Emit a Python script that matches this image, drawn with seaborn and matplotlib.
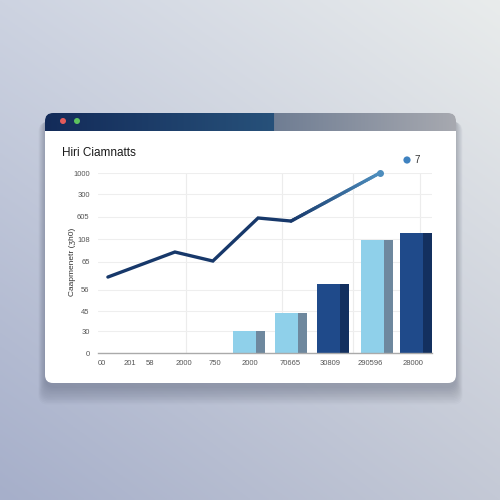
import numpy as np
import pandas as pd
import matplotlib
matplotlib.use("Agg")
import matplotlib.pyplot as plt
import seaborn as sns
from matplotlib.patches import FancyBboxPatch, Circle
from matplotlib.collections import LineCollection
from matplotlib.colors import to_rgb

# ---------------- data ----------------
title = "Hiri Ciamnatts"
y_label = "Caapmenetr (ʒh0)"
legend_label = "7"

x_tick_pos = [0, 8.5, 14.5, 24.8, 34.2, 44.8, 57.0, 69.0, 81.2, 94.2]
x_tick_labels = ["00", "201", "58", "2000", "750", "2000", "70665", "30809", "290596", "28000"]
y_tick_pos = [0, 122, 233, 350, 506, 633, 756, 883, 1000]
y_tick_labels = ["0", "30", "45", "56", "65", "108", "605", "300", "1000"]

line_x = [1.8, 22.1, 33.6, 47.3, 57.3, 84.2]
line_y = [422, 561, 511, 750, 733, 1000]

bar_x = [44.5, 57.2, 70.0, 83.2, 95.1]
bar_h = [122, 222, 383, 628, 667]
bar_kind = ["light", "light", "dark", "light", "dark"]

# ---------------- style ----------------
sns.set_theme(style="white")
plt.rcParams["font.family"] = ["Liberation Sans", "DejaVu Sans"]

fig = plt.figure(figsize=(5, 5), dpi=100)

# background axes in pixel coordinates
bg = fig.add_axes([0, 0, 1, 1])
bg.set_xlim(0, 500)
bg.set_ylim(500, 0)
bg.axis("off")

tl, tr = np.array(to_rgb("#cdd3e1")), np.array(to_rgb("#e9ecec"))
bl, br = np.array(to_rgb("#a6afca")), np.array(to_rgb("#c4c9d6"))
u = np.linspace(0, 1, 200)[None, :, None]
v = np.linspace(0, 1, 200)[:, None, None]
grad = (1 - v) * ((1 - u) * tl + u * tr) + v * ((1 - u) * bl + u * br)
bg.imshow(grad, extent=(0, 500, 500, 0), aspect="auto", zorder=0)

# card shadow
for i in range(12):
    s = FancyBboxPatch((45 - i * 0.6, 118 + i * 0.4), 411 + i * 1.2, 270 + i * 1.1,
                       boxstyle="round,pad=0,rounding_size=9",
                       fc="#20283e", ec="none", alpha=0.022, zorder=1)
    bg.add_patch(s)

card = FancyBboxPatch((45, 113), 411, 270, boxstyle="round,pad=0,rounding_size=8",
                      fc="white", ec="none", zorder=2)
bg.add_patch(card)

# header gradient
hx = np.linspace(0, 1, 400)
hcols = []
c1, c2 = np.array(to_rgb("#132b59")), np.array(to_rgb("#27517a"))
c3, c4 = np.array(to_rgb("#6f7d93")), np.array(to_rgb("#a7a9b0"))
for t in hx:
    px = 45 + t * 411
    if px < 274:
        f = (px - 45) / (274 - 45)
        hcols.append(c1 * (1 - f) + c2 * f)
    else:
        f = (px - 274) / (456 - 274)
        hcols.append(c3 * (1 - f) + c4 * f)
hdr = np.array(hcols)[None, :, :]
im = bg.imshow(hdr, extent=(45, 456, 131, 113), aspect="auto", zorder=3)
im.set_clip_path(card)

bg.add_patch(Circle((63, 121), 3, fc="#e25b5b", ec="none", zorder=4))
bg.add_patch(Circle((77, 121), 3, fc="#5cc25e", ec="none", zorder=4))

# ---------------- chart ----------------
ax = fig.add_axes([98 / 500, 1 - 353 / 500, 334 / 500, 180 / 500])
ax.set_facecolor("none")
ax.set_xlim(-1.2, 100)
ax.set_ylim(0, 1000)

light, light_sh = "#8fd0ea", "#6e889e"
dark, dark_sh = "#1f4a8a", "#13305f"
main_w, sh_w = 7.0, 2.7
for x, h, k in zip(bar_x, bar_h, bar_kind):
    c, cs = (light, light_sh) if k == "light" else (dark, dark_sh)
    left = x - (main_w + sh_w) / 2
    ax.bar(left, h, width=main_w, align="edge", color=c, lw=0, zorder=2)
    ax.bar(left + main_w, h, width=sh_w, align="edge", color=cs, lw=0, zorder=2)

df = pd.DataFrame({"x": line_x, "y": line_y})
sns.lineplot(data=df.iloc[:5], x="x", y="y", ax=ax, color="#17386a", lw=2.4,
             zorder=4, solid_capstyle="round", solid_joinstyle="miter", clip_on=False)

# gradient on the last segment
n = 40
xs = np.linspace(line_x[4], line_x[5], n + 1)
ys = np.linspace(line_y[4], line_y[5], n + 1)
segs = [[(xs[i], ys[i]), (xs[i + 1], ys[i + 1])] for i in range(n)]
ca, cb = np.array(to_rgb("#17386a")), np.array(to_rgb("#4d8dbd"))
cols = [ca * (1 - t) + cb * t for t in np.linspace(0, 1, n)]
lc = LineCollection(segs, colors=cols, linewidths=2.4, capstyle="round", zorder=4, clip_on=False)
ax.add_collection(lc)
ax.plot([line_x[5]], [line_y[5]], marker="o", ms=4, color="#4d8dbd", zorder=5, clip_on=False)

ax.set_xticks(x_tick_pos)
ax.set_xticklabels(x_tick_labels)
ax.set_yticks(y_tick_pos)
ax.set_yticklabels(y_tick_labels)
ax.set_xticks([0, 25.5, 54.5, 76, 96.4], minor=True)
ax.grid(False)
ax.grid(axis="x", which="minor", color="#ececec", lw=0.8, zorder=0)
ax.grid(axis="y", which="major", color="#eeeeee", lw=0.8, zorder=0)
ax.tick_params(axis="both", which="both", length=0, labelsize=5.5, labelcolor="#555555")
ax.tick_params(axis="y", pad=6)
ax.tick_params(axis="x", pad=5)
for s in ["top", "right", "left"]:
    ax.spines[s].set_visible(False)
ax.spines["bottom"].set_color("#aaaaaa")
ax.spines["bottom"].set_linewidth(1.0)
ax.set_xlabel("")
ax.set_ylabel("")

fig.text(62 / 500, 1 - 153 / 500, title, fontsize=8.5, color="#1a1a1a", va="center", ha="left")
fig.text(73 / 500, 1 - 262 / 500, y_label, fontsize=6, color="#333333", rotation=90,
         va="center", ha="center")
bg.add_patch(Circle((407, 160), 3.6, fc="#3f82c0", ec="none", zorder=5))
fig.text(414 / 500, 1 - 160 / 500, legend_label, fontsize=7, color="#333333", va="center", ha="left")

fig.savefig("out.png", dpi=100)
